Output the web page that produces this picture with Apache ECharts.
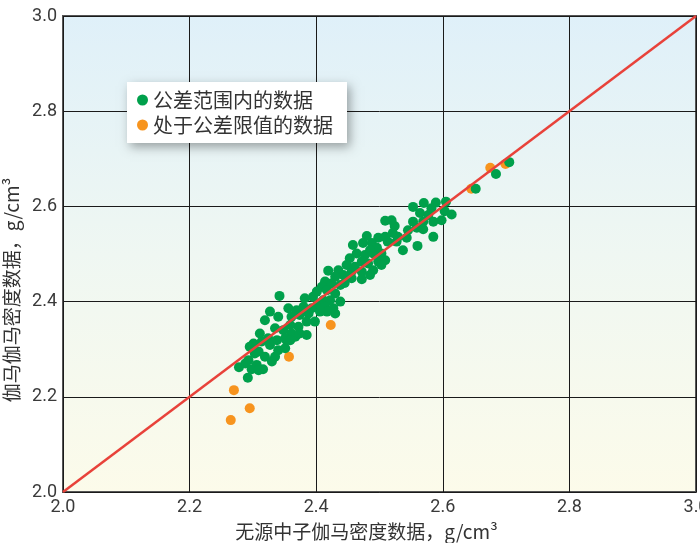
<!DOCTYPE html>
<html>
<head>
<meta charset="utf-8">
<script src="https://cdn.jsdelivr.net/npm/echarts@6/dist/echarts.min.js"></script>
<style>
  html, body { margin: 0; padding: 0; background: #ffffff; }
  #chart { width: 700px; height: 543px; }
</style>
</head>
<body>
<div id="chart"></div>
<script>
// Series names shown in the legend
const seriesNames = ['公差范围内的数据', '处于公差限值的数据'];

// Axis range and tick spacing (g/cm³)
const axisMin = 2.0;
const axisMax = 3.0;
const axisStep = 0.2;

const xTitle = '无源中子伽马密度数据，g/cm³';
const yTitle = '伽马伽马密度数据，g/cm³';

// [neutron-gamma density, gamma-gamma density] pairs inside tolerance
const withinTolerance = [
  [2.327, 2.379], [2.340, 2.368], [2.319, 2.361], [2.348, 2.340], [2.335, 2.344],
  [2.311, 2.333], [2.324, 2.323], [2.338, 2.319], [2.340, 2.298], [2.327, 2.309],
  [2.314, 2.316], [2.301, 2.312], [2.295, 2.305], [2.309, 2.295], [2.319, 2.284],
  [2.330, 2.274], [2.335, 2.284], [2.316, 2.258], [2.306, 2.267], [2.293, 2.277],
  [2.288, 2.270], [2.278, 2.262], [2.298, 2.258], [2.292, 2.240], [2.309, 2.256],
  [2.303, 2.291], [2.351, 2.302], [2.353, 2.319], [2.367, 2.326], [2.342, 2.412],
  [2.464, 2.501], [2.477, 2.498], [2.490, 2.501], [2.503, 2.501], [2.453, 2.491],
  [2.472, 2.484], [2.482, 2.480], [2.498, 2.484], [2.509, 2.487], [2.448, 2.477],
  [2.461, 2.473], [2.490, 2.466], [2.503, 2.477], [2.435, 2.466], [2.419, 2.465],
  [2.443, 2.456], [2.456, 2.449], [2.472, 2.447], [2.485, 2.456], [2.430, 2.452],
  [2.414, 2.442], [2.424, 2.438], [2.438, 2.435], [2.409, 2.431], [2.401, 2.421],
  [2.417, 2.424], [2.430, 2.417], [2.438, 2.400], [2.422, 2.403], [2.411, 2.403],
  [2.395, 2.410], [2.382, 2.407], [2.403, 2.396], [2.414, 2.389], [2.427, 2.386],
  [2.430, 2.375], [2.417, 2.379], [2.406, 2.379], [2.393, 2.386], [2.380, 2.389],
  [2.369, 2.382], [2.356, 2.386], [2.361, 2.368], [2.374, 2.372], [2.388, 2.375],
  [2.398, 2.358], [2.385, 2.358], [2.372, 2.347], [2.359, 2.351], [2.361, 2.333],
  [2.351, 2.323], [2.374, 2.333], [2.385, 2.330], [2.359, 2.319],
  [2.577, 2.582], [2.559, 2.555], [2.545, 2.550], [2.543, 2.534], [2.529, 2.536],
  [2.524, 2.559], [2.519, 2.571], [2.509, 2.570], [2.521, 2.544], [2.513, 2.526],
  [2.498, 2.534], [2.509, 2.536], [2.480, 2.538], [2.474, 2.523], [2.458, 2.519],
  [2.488, 2.523], [2.496, 2.513], [2.485, 2.508], [2.537, 2.508], [2.560, 2.517],
  [2.527, 2.526], [2.445, 2.439], [2.456, 2.463], [2.472, 2.463],
  [2.553, 2.599], [2.570, 2.607], [2.589, 2.608], [2.605, 2.610], [2.582, 2.596],
  [2.564, 2.586], [2.603, 2.590], [2.614, 2.583], [2.553, 2.568], [2.569, 2.568],
  [2.585, 2.568], [2.598, 2.571], [2.569, 2.552], [2.585, 2.536],
  [2.652, 2.637], [2.684, 2.668], [2.705, 2.693]
];

// Pairs sitting at the tolerance limit
const atToleranceLimit = [
  [2.675, 2.681], [2.699, 2.689], [2.645, 2.637], [2.270, 2.214],
  [2.295, 2.176], [2.265, 2.151], [2.357, 2.284], [2.423, 2.351]
];

// One-to-one reference line
const referenceLine = [[2.0, 2.0], [3.0, 3.0]];

const labelFont = '"Liberation Sans Narrow", "Roboto", sans-serif';
const cjkFont = '"Noto Sans CJK SC", "Noto Sans", sans-serif';

const chart = echarts.init(document.getElementById('chart'), null, { renderer: 'canvas' });

const axisCommon = {
  type: 'value',
  min: axisMin,
  max: axisMax,
  interval: axisStep,
  axisLine: { show: false },
  axisTick: { show: false },
  splitLine: { show: true, lineStyle: { color: '#1a1a1a', width: 1 } },
  axisLabel: {
    color: '#3a3a3a',
    fontFamily: labelFont,
    fontSize: 18,
    formatter: v => v.toFixed(1)
  },
  nameLocation: 'middle'
};

chart.setOption({
  animation: false,
  grid: {
    left: 63, right: 4, top: 16, bottom: 51,
    containLabel: false,
    outerBoundsMode: 'none',
    show: true,
    borderColor: '#555555',
    borderWidth: 2,
    backgroundColor: new echarts.graphic.LinearGradient(0, 0, 0, 1, [
      { offset: 0, color: '#dff0f9' },
      { offset: 0.5, color: '#eff7f2' },
      { offset: 1, color: '#fcfbea' }
    ])
  },
  legend: {
    data: seriesNames,
    orient: 'vertical',
    left: 127,
    top: 82,
    padding: [8, 14, 8, 10],
    itemGap: 5,
    itemWidth: 11,
    itemHeight: 11,
    icon: 'circle',
    backgroundColor: '#ffffff',
    shadowColor: 'rgba(0, 0, 0, 0.35)',
    shadowBlur: 10,
    shadowOffsetX: 3,
    shadowOffsetY: 4,
    textStyle: { color: '#333333', fontFamily: cjkFont, fontSize: 20 }
  },
  xAxis: Object.assign({}, axisCommon, {
    name: xTitle,
    nameGap: 30,
    nameTextStyle: {
      color: '#333333', fontFamily: cjkFont, fontSize: 19,
      padding: [0, 26, 0, 0]
    },
    axisLabel: Object.assign({}, axisCommon.axisLabel, { margin: 6 })
  }),
  yAxis: Object.assign({}, axisCommon, {
    name: yTitle,
    nameGap: 35,
    nameTextStyle: {
      color: '#333333', fontFamily: cjkFont, fontSize: 19,
      padding: [0, 72, 0, 0]
    },
    axisLabel: Object.assign({}, axisCommon.axisLabel, { margin: 6 })
  }),
  series: [
    {
      name: seriesNames[1],
      type: 'scatter',
      data: atToleranceLimit,
      symbolSize: 10,
      itemStyle: { color: '#f7941e', opacity: 1 },
      z: 2
    },
    {
      name: seriesNames[0],
      type: 'scatter',
      data: withinTolerance,
      symbolSize: 10,
      itemStyle: { color: '#00a04b', opacity: 1 },
      z: 3
    },
    {
      name: 'reference',
      type: 'line',
      data: referenceLine,
      symbol: 'none',
      lineStyle: { color: '#e8423a', width: 2.5 },
      z: 4,
      silent: true
    }
  ]
});
</script>
</body>
</html>
